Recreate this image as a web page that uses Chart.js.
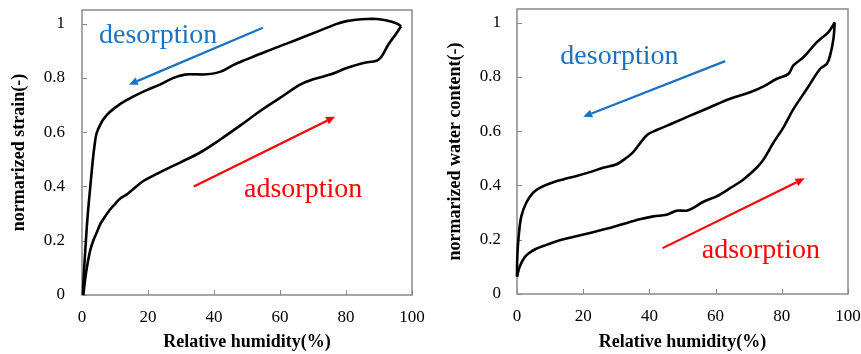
<!DOCTYPE html>
<html><head><meta charset="utf-8">
<script src="https://cdn.jsdelivr.net/npm/chart.js@4"></script>
<style>
body{margin:0;background:#fff;width:861px;height:354px;overflow:hidden;position:relative}
.w{position:absolute;top:0;height:354px}
#w1{left:0;width:430px}
#w2{left:430px;width:431px}
</style>
</head><body>
<div class="w" id="w1"><canvas id="c1"></canvas></div>
<div class="w" id="w2"><canvas id="c2"></canvas></div>
<script>
// ---- data ----
const xTickValues = [0, 20, 40, 60, 80, 100];
const yTickValues = [0, 0.2, 0.4, 0.6, 0.8, 1];
const xTitle = "Relative humidity(%)";
const yTitleStrain = "normarized strain(-)";
const yTitleWater = "normarized water content(-)";

// left: normalized strain
const strainAdsRH  = [0.4, 1.2, 2.4, 3.4, 4.4, 5.5, 6.5, 8.5, 10, 11.5, 13.5, 15.5, 18.6, 23.6, 29.7, 35.8, 41.8, 47.9, 53.9, 60, 66.1, 70.1, 75.2, 80.2, 85.3, 89.3, 90.8, 92.8, 94.8, 96.7];
const strainAdsVal = [0, 0.08, 0.16, 0.2, 0.228, 0.26, 0.28, 0.315, 0.335, 0.355, 0.37, 0.39, 0.42, 0.452, 0.488, 0.525, 0.572, 0.624, 0.677, 0.726, 0.775, 0.795, 0.812, 0.836, 0.855, 0.863, 0.879, 0.922, 0.956, 0.99];
const strainDesRH  = [96.7, 95.4, 92, 89.3, 86.3, 83, 80.2, 77, 74.1, 68.1, 62, 56, 49.9, 45.8, 41.8, 37.8, 33.7, 31.2, 27.7, 23.6, 19.6, 15.6, 13.5, 11.5, 8.5, 6.5, 5.5, 4.4, 3.9, 3.3, 2.6, 1.7, 1.0, 0.4, 0.3];
const strainDesVal = [0.99, 1.0, 1.012, 1.017, 1.017, 1.014, 1.009, 0.998, 0.984, 0.955, 0.926, 0.898, 0.868, 0.847, 0.822, 0.813, 0.813, 0.812, 0.8, 0.775, 0.755, 0.732, 0.718, 0.703, 0.675, 0.648, 0.627, 0.595, 0.56, 0.5, 0.41, 0.29, 0.166, 0.043, 0];

// right: normalized water content
const waterAdsRH  = [0, 0.8, 2.3, 3.8, 5.5, 8.9, 12.9, 16.9, 22, 27, 32.1, 37.1, 41.2, 45.2, 48.2, 51.2, 53.3, 56.3, 60.3, 64.4, 68.4, 72.4, 74.5, 77.5, 80.5, 83.5, 87.6, 91.6, 93.6, 94.6, 95.6, 96];
const waterAdsVal = [0.064, 0.1, 0.135, 0.152, 0.165, 0.181, 0.198, 0.21, 0.225, 0.24, 0.258, 0.275, 0.286, 0.292, 0.307, 0.307, 0.317, 0.34, 0.36, 0.39, 0.422, 0.465, 0.496, 0.558, 0.614, 0.681, 0.756, 0.83, 0.848, 0.879, 0.94, 1.0];
const waterDesRH  = [96, 94.1, 90.6, 86.6, 83.5, 82, 78.5, 74.5, 70.4, 64.4, 58.3, 52.3, 47.2, 42.2, 39.6, 38.1, 36.6, 35.1, 33.1, 30.1, 26, 22, 18, 13.9, 9.9, 6.9, 4.8, 2.8, 1.3, 0.5, 0.1, 0];
const waterDesVal = [1.0, 0.965, 0.928, 0.873, 0.842, 0.811, 0.793, 0.765, 0.743, 0.719, 0.688, 0.657, 0.63, 0.604, 0.589, 0.57, 0.546, 0.523, 0.502, 0.478, 0.465, 0.449, 0.435, 0.422, 0.407, 0.391, 0.373, 0.336, 0.286, 0.212, 0.138, 0.064];

// annotations (data units)
const strainNotes = [
  {text: "desorption", x: 5.15, y: 0.929, color: "#1a72c0"},
  {text: "adsorption", x: 49.1, y: 0.362, color: "#ff0000"}
];
const strainArrows = [
  {from: [54.8, 0.985], to: [14.2, 0.775], color: "#1a72c0"},
  {from: [33.9, 0.40], to: [76.7, 0.657], color: "#ff0000"}
];
const waterNotes = [
  {text: "desorption", x: 13.1, y: 0.848, color: "#1a72c0"},
  {text: "adsorption", x: 55.8, y: 0.133, color: "#ff0000"}
];
const waterArrows = [
  {from: [62.9, 0.858], to: [20.0, 0.653], color: "#1a72c0"},
  {from: [44.0, 0.169], to: [86.9, 0.426], color: "#ff0000"}
];

// ---- rendering ----
const AXIS = "#898989";
const SERIF = "'Liberation Serif', 'Times New Roman', serif";
const zip = (a, b) => a.map((v, i) => ({x: v, y: b[i]}));
const fmt = v => String(+Number(v).toFixed(2));
const noPad = s => { s.paddingTop = 0; s.paddingBottom = 0; s.paddingLeft = 0; s.paddingRight = 0; };

function makePlugin(notes, arrows) {
  return {
    id: 'frameNotes',
    beforeDatasetsDraw(chart) {
      const {ctx, chartArea: a, scales: {x, y}} = chart;
      ctx.save();
      ctx.strokeStyle = AXIS;
      ctx.lineWidth = 1.5;
      ctx.strokeRect(a.left, a.top, a.right - a.left, a.bottom - a.top);
      ctx.lineWidth = 1;
      ctx.beginPath();
      x.ticks.forEach(t => {
        const px = Math.round(x.getPixelForValue(t.value)) + 0.5;
        ctx.moveTo(px, a.bottom); ctx.lineTo(px, a.bottom - 5);
      });
      y.ticks.forEach(t => {
        const py = Math.round(y.getPixelForValue(t.value)) + 0.5;
        ctx.moveTo(a.left, py); ctx.lineTo(a.left + 5, py);
      });
      ctx.stroke();
      ctx.restore();
    },
    afterDatasetsDraw(chart) {
      const {ctx, scales: {x, y}} = chart;
      ctx.save();
      arrows.forEach(ar => {
        const x1 = x.getPixelForValue(ar.from[0]), y1 = y.getPixelForValue(ar.from[1]);
        const x2 = x.getPixelForValue(ar.to[0]), y2 = y.getPixelForValue(ar.to[1]);
        const ang = Math.atan2(y2 - y1, x2 - x1);
        const hl = 9, hw = 4;
        const bx = x2 - hl * Math.cos(ang), by = y2 - hl * Math.sin(ang);
        ctx.strokeStyle = ar.color; ctx.fillStyle = ar.color; ctx.lineWidth = 2.2;
        ctx.beginPath(); ctx.moveTo(x1, y1); ctx.lineTo(bx, by); ctx.stroke();
        ctx.beginPath();
        ctx.moveTo(x2, y2);
        ctx.lineTo(bx + hw * Math.sin(ang), by - hw * Math.cos(ang));
        ctx.lineTo(bx - hw * Math.sin(ang), by + hw * Math.cos(ang));
        ctx.closePath(); ctx.fill();
      });
      notes.forEach(n => {
        ctx.fillStyle = n.color;
        ctx.font = "28px " + SERIF;
        ctx.textAlign = "left"; ctx.textBaseline = "alphabetic";
        ctx.fillText(n.text, x.getPixelForValue(n.x), y.getPixelForValue(n.y));
      });
      ctx.restore();
    }
  };
}

function makeChart(id, ads, des, yTitle, geo, notes, arrows) {
  const line = {showLine: true, pointRadius: 0, borderColor: "#000", borderWidth: 2.6, tension: 0.35, clip: 6, fill: false};
  new Chart(document.getElementById(id), {
    type: 'scatter',
    data: {datasets: [
      Object.assign({label: 'adsorption', data: ads}, line),
      Object.assign({label: 'desorption', data: des}, line)
    ]},
    options: {
      responsive: true, maintainAspectRatio: false, animation: false, devicePixelRatio: 1,
      layout: {padding: {top: geo.top, right: geo.right, left: 0, bottom: 0}},
      plugins: {legend: {display: false}, tooltip: {enabled: false}},
      scales: {
        x: {
          type: 'linear', min: 0, max: 100,
          afterBuildTicks: s => { s.ticks = xTickValues.map(v => ({value: v})); },
          afterFit: s => { s.height = geo.xh; noPad(s); },
          grid: {display: false, drawTicks: false},
          border: {display: false},
          ticks: {color: "#000", font: {family: SERIF, size: 17}, padding: 12, maxRotation: 0, autoSkip: false, callback: fmt},
          title: {display: true, text: xTitle, color: "#000", font: {family: SERIF, size: 18, weight: 'bold'}, padding: {top: 0, bottom: 1}}
        },
        y: {
          type: 'linear', min: 0, max: 1.05,
          afterBuildTicks: s => { s.ticks = yTickValues.map(v => ({value: v})); },
          afterFit: s => { s.width = geo.yw; noPad(s); },
          grid: {display: false, drawTicks: false},
          border: {display: false},
          ticks: {color: "#000", font: {family: SERIF, size: 17}, padding: geo.ypad, autoSkip: false, callback: fmt},
          title: {display: true, text: yTitle, color: "#000", font: {family: SERIF, size: 18, weight: 'bold'}, padding: {top: geo.ytp, bottom: 0}}
        }
      }
    },
    plugins: [makePlugin(notes, arrows)]
  });
}

makeChart('c1', zip(strainAdsRH, strainAdsVal), zip(strainDesRH, strainDesVal), yTitleStrain,
  {top: 10, right: 18, xh: 59, yw: 82, ypad: 17, ytp: 9}, strainNotes, strainArrows);
makeChart('c2', zip(waterAdsRH, waterAdsVal), zip(waterDesRH, waterDesVal), yTitleWater,
  {top: 9, right: 13, xh: 60, yw: 87, ypad: 16, ytp: 15}, waterNotes, waterArrows);
</script>
</body></html>
